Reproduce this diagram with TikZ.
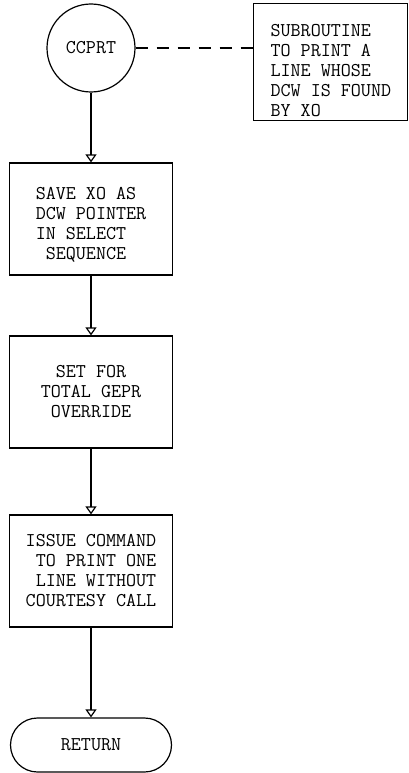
\documentclass[tikz,border=0pt]{standalone}
\usepackage{tikz}
\usetikzlibrary{arrows.meta,positioning,shapes.misc}

\begin{document}
\begin{tikzpicture}[x=1pt,y=-1pt,line width=1.2pt,
  font=\fontsize{19.5}{20}\selectfont\ttfamily,
  proc/.style={draw,minimum width=163pt,minimum height=112pt,inner sep=0pt},
  flow/.style={-{Triangle[open,width=11pt,length=8pt]}}]
\useasboundingbox (0,0) rectangle (408,773);
\node[draw,circle,minimum size=88pt,inner sep=0pt] (ccprt) at (91,48) {CCPRT};
\node[draw,anchor=north west,minimum width=154pt,minimum height=117pt] (note) at (253,3) {};
\node[anchor=north west,align=left,inner sep=0pt] (notetext) at (270,24) {SUBROUTINE\\TO PRINT A\\LINE WHOSE\\DCW IS FOUND\\BY XO};
\node[proc,align=left] (save) at (91,219) {{}\\[4pt]SAVE XO AS\\DCW POINTER\\IN SELECT\\~SEQUENCE};
\node[proc,align=center] (set) at (91,392) {SET FOR\\TOTAL GEPR\\OVERRIDE};
\node[proc,align=right] (issue) at (91,571) {ISSUE COMMAND\\TO PRINT ONE\\LINE WITHOUT\\COURTESY CALL};
\node[draw,rounded rectangle,minimum width=161pt,minimum height=54pt,inner sep=0pt] (ret) at (91,745) {RETURN};
% connectors
\draw[dash pattern=on 12pt off 9pt] (ccprt.east) -- (ccprt.east -| note.west);
\draw[flow] (ccprt.south) -- (save.north);
\draw[flow] (save.south) -- (set.north);
\draw[flow] (set.south) -- (issue.north);
\draw[flow] (issue.south) -- (ret.north);
\end{tikzpicture}
\end{document}
